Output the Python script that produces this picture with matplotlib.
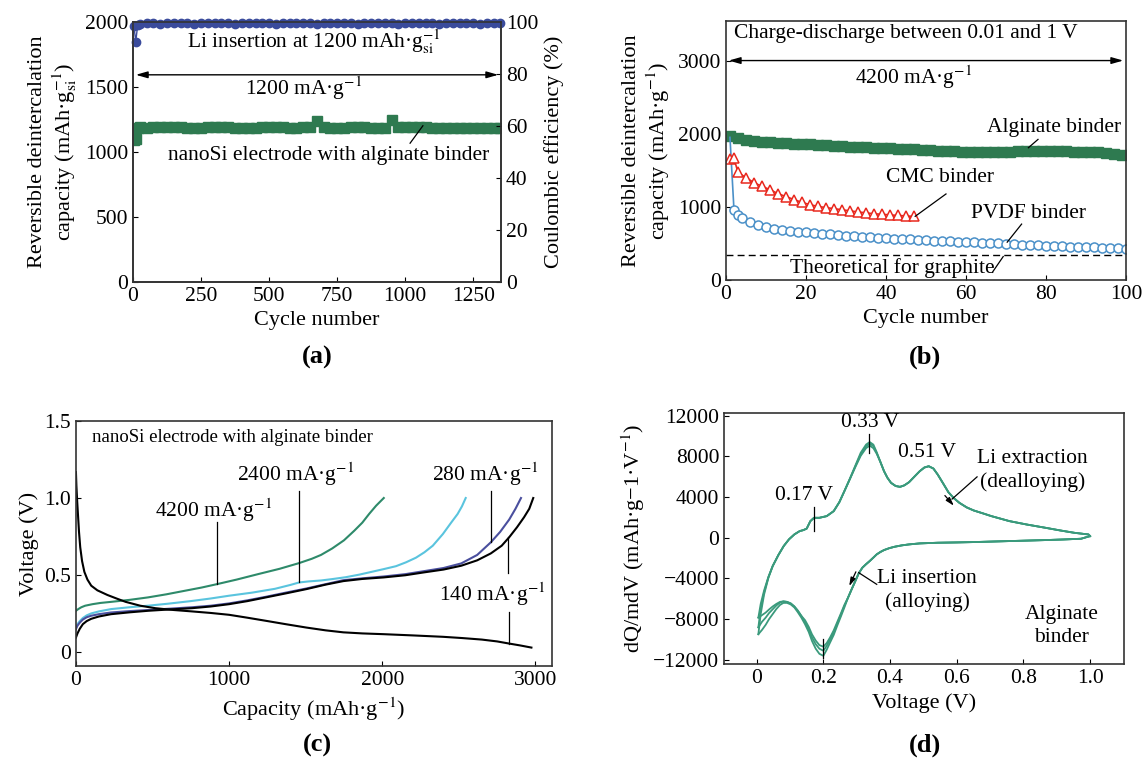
import numpy as np
import matplotlib
matplotlib.use('Agg')
import matplotlib.pyplot as plt

plt.rcParams['font.family'] = 'serif'
plt.rcParams['font.serif'] = ['Liberation Serif', 'DejaVu Serif']
plt.rcParams['mathtext.fontset'] = 'stix'
plt.rcParams['axes.linewidth'] = 1.2
plt.rcParams['axes.edgecolor'] = '#333333'
plt.rcParams['xtick.direction'] = 'in'
plt.rcParams['ytick.direction'] = 'in'
plt.rcParams['xtick.labelsize'] = 15.5
plt.rcParams['ytick.labelsize'] = 15.5

# ---------------- (a) long cycling, alginate binder ----------------
a_cycles_start = [3, 10, 17]
a_cap_start = [1090, 1100, 1185]
a_ce_start = [98.6, 92.4, 98.8]
a_cycles = list(range(25, 1351, 25))
a_cap = [1190, 1185, 1190, 1195, 1195, 1195, 1192, 1185, 1182, 1183,
         1190, 1192, 1192, 1188, 1185, 1180, 1182, 1185, 1190, 1192,
         1193, 1190, 1185, 1180, 1188, 1195, 1240, 1190, 1185, 1182,
         1182, 1190, 1192, 1190, 1185, 1182, 1185, 1248, 1190, 1192,
         1195, 1195, 1192, 1185, 1182, 1182, 1182, 1183, 1183, 1183,
         1182, 1182, 1183, 1183]
a_ce = [99.3, 99.4, 99.4, 99.3, 99.4, 99.5, 99.4, 99.4, 99.3, 99.4,
        99.4, 99.5, 99.4, 99.4, 99.3, 99.4, 99.4, 99.5, 99.4, 99.4,
        99.3, 99.4, 99.4, 99.5, 99.4, 99.4, 99.3, 99.4, 99.4, 99.5,
        99.4, 99.4, 99.3, 99.4, 99.4, 99.5, 99.4, 99.4, 99.3, 99.4,
        99.4, 99.5, 99.4, 99.4, 99.3, 99.4, 99.4, 99.5, 99.4, 99.4,
        99.3, 99.4, 99.4, 99.4]

# ---------------- (b) binder comparison at 4200 mA/g ----------------
b_alg_cycles = list(range(1, 100, 2))
b_alg = [1965, 1935, 1915, 1900, 1890, 1880, 1875, 1870, 1865, 1862,
         1858, 1852, 1845, 1838, 1830, 1824, 1818, 1813, 1808, 1804,
         1800, 1795, 1790, 1784, 1778, 1773, 1768, 1763, 1758, 1754,
         1750, 1749, 1748, 1750, 1752, 1755, 1758, 1761, 1763, 1763,
         1762, 1760, 1758, 1755, 1752, 1748, 1745, 1735, 1725, 1710]
b_cmc_cycles = [1, 2, 3, 5, 7, 9, 11, 13, 15, 17, 19, 21, 23, 25, 27, 29,
                31, 33, 35, 37, 39, 41, 43, 45, 47]
b_cmc = [1660, 1665, 1470, 1400, 1330, 1280, 1235, 1180, 1140, 1100,
         1060, 1030, 1005, 990, 975, 960, 945, 930, 918, 905, 898, 890,
         882, 876, 868]
b_pvdf_cycles = [1, 2, 3, 4] + list(range(6, 101, 2))
b_pvdf = [1950, 960, 895, 845, 790, 750, 720, 700, 688, 675, 662, 652,
          642, 632, 624, 615, 605, 598, 592, 585, 578, 572, 566, 560, 554,
          547, 540, 536, 531, 527, 522, 517, 513, 508, 504, 499, 494, 489,
          484, 478, 473, 467, 463, 459, 456, 452, 448, 444, 440, 436, 432,
          428]
b_graphite = 340

# ---------------- (c) voltage profiles ----------------
c4200_cap = [0, 15, 35, 60, 108, 160, 229, 350, 470, 590, 710, 820, 920,
             1050, 1192, 1330, 1457, 1540, 1600, 1673, 1750, 1818, 1870,
             1914, 1960, 2010]
c4200_v = [0.267, 0.278, 0.29, 0.3, 0.31, 0.318, 0.325, 0.338, 0.354, 0.374,
           0.397, 0.418, 0.44, 0.47, 0.506, 0.54, 0.577, 0.605, 0.63, 0.672,
           0.725, 0.788, 0.84, 0.896, 0.95, 1.0]
c2400_cap = [0, 10, 25, 45, 70, 100, 150, 229, 350, 470, 600, 750, 880, 1000,
             1150, 1300, 1400, 1457, 1520, 1600, 1673, 1760, 1850, 1930, 2010,
             2090, 2155, 2220, 2275, 2330, 2396, 2450, 2492, 2520, 2545]
c2400_v = [0.158, 0.18, 0.2, 0.22, 0.237, 0.25, 0.263, 0.278, 0.29, 0.30,
           0.313, 0.33, 0.347, 0.365, 0.385, 0.41, 0.435, 0.451, 0.458, 0.464,
           0.473, 0.485, 0.502, 0.52, 0.538, 0.557, 0.582, 0.612, 0.647, 0.69,
           0.766, 0.84, 0.896, 0.945, 1.0]
c280_cap = [0, 10, 25, 45, 70, 100, 150, 229, 350, 470, 600, 758, 880, 1000,
            1120, 1240, 1370, 1505, 1630, 1746, 1870, 2010, 2150, 2275, 2400,
            2516, 2620, 2709, 2770, 2829, 2870, 2906]
c280_v = [0.148, 0.17, 0.19, 0.21, 0.225, 0.235, 0.245, 0.256, 0.265, 0.272,
          0.28, 0.29, 0.3, 0.315, 0.335, 0.358, 0.385, 0.412, 0.44, 0.466,
          0.478, 0.49, 0.505, 0.525, 0.545, 0.575, 0.63, 0.712, 0.78, 0.86,
          0.93, 1.0]
c140_cap = [0, 10, 25, 45, 70, 100, 150, 229, 350, 470, 600, 758, 880, 1000,
            1120, 1240, 1370, 1505, 1630, 1746, 1870, 2010, 2150, 2275, 2400,
            2516, 2620, 2709, 2780, 2829, 2880, 2926, 2960, 2986]
c140_v = [0.093, 0.12, 0.15, 0.18, 0.2, 0.215, 0.23, 0.245, 0.257, 0.267,
          0.275, 0.284, 0.295, 0.31, 0.33, 0.354, 0.38, 0.408, 0.437, 0.46,
          0.474, 0.484, 0.498, 0.517, 0.535, 0.56, 0.595, 0.64, 0.69, 0.745,
          0.81, 0.875, 0.93, 1.0]
c_dis_cap = [0, 3, 8, 14, 20, 28, 40, 55, 75, 100, 140, 205, 270, 325, 420,
             518, 640, 758, 880, 1000, 1120, 1240, 1370, 1505, 1630, 1746,
             1870, 2010, 2200, 2396, 2520, 2650, 2750, 2829, 2900, 2974]
c_dis_v = [1.168, 1.08, 0.98, 0.88, 0.78, 0.68, 0.59, 0.52, 0.47, 0.43, 0.40,
           0.37, 0.345, 0.325, 0.30, 0.284, 0.272, 0.263, 0.253, 0.241, 0.222,
           0.202, 0.18, 0.158, 0.14, 0.127, 0.12, 0.115, 0.107, 0.098, 0.09,
           0.08, 0.068, 0.054, 0.042, 0.028]

# ---------------- (d) differential capacity ----------------
d_v_down = [1.0, 0.973, 0.92, 0.866, 0.81, 0.758, 0.7, 0.651, 0.6, 0.543,
            0.489, 0.457, 0.435, 0.414, 0.398, 0.382, 0.371, 0.36, 0.35,
            0.339, 0.328, 0.317, 0.306, 0.296, 0.285, 0.274, 0.263, 0.253,
            0.242, 0.231, 0.22, 0.21, 0.2, 0.188, 0.177, 0.166, 0.156, 0.145,
            0.134, 0.123, 0.113, 0.102, 0.091, 0.08, 0.07, 0.059, 0.048,
            0.037, 0.027, 0.016, 0.005]
d_i_down_1 = [163, -98, -170, -229, -280, -327, -380, -425, -460, -490,
              -556, -654, -750, -882, -1020, -1209, -1400, -1634, -1950,
              -2288, -2600, -2941, -3500, -4248, -5050, -5882, -6600, -7400,
              -8250, -9100, -9800, -10350, -10700, -10550, -10100, -9500,
              -8750, -8100, -7680, -7150, -6750, -6450, -6300, -6250, -6300,
              -6500, -6750, -7050, -7350, -7600, -7843]
d_i_down_2 = [163, -98, -170, -229, -280, -327, -380, -425, -460, -490,
              -556, -654, -750, -882, -1020, -1209, -1400, -1634, -1950,
              -2288, -2600, -2941, -3500, -4248, -5050, -5882, -6700, -7516,
              -8400, -9314, -10000, -10621, -11100, -10900, -10457, -9800,
              -8987, -8300, -7680, -7150, -6750, -6450, -6300, -6250, -6372,
              -6650, -7026, -7400, -7843, -8250, -8800]
d_i_down_3 = [163, -98, -170, -229, -280, -327, -380, -425, -460, -490,
              -556, -654, -750, -882, -1020, -1209, -1400, -1634, -1950,
              -2288, -2600, -2941, -3500, -4248, -5050, -5882, -6850, -7700,
              -8600, -9550, -10300, -11000, -11600, -11400, -10900, -10150,
              -9250, -8500, -7850, -7300, -6850, -6550, -6400, -6400, -6600,
              -7000, -7500, -8000, -8550, -9050, -9477]
d_v_up = [0.005, 0.012, 0.022, 0.035, 0.048, 0.065, 0.081, 0.097, 0.113,
          0.129, 0.14, 0.15, 0.161, 0.172, 0.188, 0.21, 0.231, 0.248, 0.263,
          0.28, 0.296, 0.312, 0.328, 0.339, 0.35, 0.36, 0.371, 0.382, 0.392,
          0.403, 0.417, 0.43, 0.443, 0.457, 0.473, 0.489, 0.503, 0.516, 0.53,
          0.543, 0.559, 0.575, 0.591, 0.608, 0.63, 0.651, 0.68, 0.704, 0.758,
          0.81, 0.866, 0.91, 0.952, 0.98, 0.995, 1.0]
d_i_up_1 = [-7843, -6500, -5200, -3850, -2780, -1700, -817, -150, 327, 654,
            750, 900, 1634, 1960, 1960, 2124, 2614, 3500, 4575, 5800, 6950,
            8050, 8800, 9050, 8800, 8250, 7450, 6536, 5900, 5392, 5080, 5000,
            5150, 5457, 6000, 6536, 6900, 7026, 6800, 6209, 5350, 4477, 3900,
            3431, 2980, 2680, 2380, 2124, 1634, 1300, 980, 720, 490, 380,
            327, 163]
d_i_up_2 = [-8800, -7000, -5390, -3900, -2780, -1700, -817, -150, 327, 654,
            750, 900, 1634, 1960, 1960, 2124, 2614, 3500, 4575, 5800, 7026,
            8200, 8987, 9248, 9000, 8333, 7450, 6536, 5900, 5392, 5080, 5000,
            5150, 5457, 6000, 6536, 6900, 7026, 6800, 6209, 5350, 4477, 3900,
            3431, 2980, 2680, 2380, 2124, 1634, 1300, 980, 720, 490, 380,
            327, 163]
d_i_up_3 = [-9477, -7500, -5600, -3950, -2780, -1700, -817, -150, 327, 654,
            750, 900, 1634, 1960, 1960, 2124, 2614, 3500, 4575, 5850, 7100,
            8350, 9150, 9400, 9150, 8400, 7450, 6536, 5900, 5392, 5080, 5000,
            5150, 5457, 6000, 6536, 6900, 7026, 6800, 6209, 5350, 4477, 3900,
            3431, 2980, 2680, 2380, 2124, 1634, 1300, 980, 720, 490, 380,
            327, 163]

green = '#2e7a50'
blue_dark = '#3a4b9c'
fs = 15.5

fig = plt.figure(figsize=(11.42, 7.66), dpi=100)

# ===== (a)
ax = fig.add_axes([0.1165, 0.632, 0.3222, 0.3394])
ax.plot(a_cycles_start + a_cycles, a_cap_start + a_cap, color=green, lw=1,
        marker='s', ms=6.5, mec=green, mfc=green)
ax.set_xlim(0, 1352)
ax.set_ylim(0, 2000)
ax.set_xticks([0, 250, 500, 750, 1000, 1250])
ax.set_yticks([0, 500, 1000, 1500, 2000])
ax.set_xlabel('Cycle number', fontsize=fs + 0.5)
ax.set_ylabel('Reversible deintercalation\ncapacity (mAh·g$_{\\mathrm{si}}^{-1}$)', fontsize=fs + 0.5)
ax2 = ax.twinx()
ax2.plot(a_cycles_start + a_cycles, a_ce_start + a_ce, color=blue_dark, lw=1,
         marker='o', ms=6, clip_on=False)
ax2.set_ylim(0, 100)
ax2.set_yticks([0, 20, 40, 60, 80, 100])
ax2.tick_params(direction='in')
ax2.set_ylabel('Coulombic efficiency (%)', fontsize=fs + 0.5)
ax.text(666, 1845, 'Li insertion at 1200 mAh·g$_{\\mathrm{si}}^{-1}$', ha='center', va='center', fontsize=fs)
ax.annotate('', xy=(0, 1593), xytext=(1352, 1593),
            arrowprops=dict(arrowstyle='<|-|>,head_length=0.7,head_width=0.2', color='black', lw=1))
ax.text(627, 1490, '1200 mA·g$^{-1}$', ha='center', va='center', fontsize=fs)
ax.plot([1065, 1018], [1201, 1067], color='black', lw=0.9)
ax.text(719, 969, 'nanoSi electrode with alginate binder', ha='center', va='center', fontsize=fs)

# ===== (b)
bx = fig.add_axes([0.6357, 0.6345, 0.3503, 0.338])
bx.plot(b_alg_cycles, b_alg, color=green, lw=1, marker='s', ms=6.5, mec=green, mfc=green)
bx.plot(b_pvdf_cycles, b_pvdf, color='#4a90c8', lw=1.2)
bx.plot(b_pvdf_cycles[1:], b_pvdf[1:], ls='none', marker='o', ms=6.5,
        mfc='white', mec='#4a90c8', mew=1.1)
bx.plot(b_cmc_cycles, b_cmc, color='#e8281e', lw=1.2, marker='^', ms=7,
        mfc='white', mec='#e8281e', mew=1.1)
bx.axhline(b_graphite, color='black', lw=1, ls=(0, (5, 3)))
bx.set_xlim(0, 100)
bx.set_ylim(0, 3540)
bx.set_xticks([0, 20, 40, 60, 80, 100])
bx.set_yticks([0, 1000, 2000, 3000])
bx.set_xlabel('Cycle number', fontsize=fs + 0.5)
bx.set_ylabel('Reversible deintercalation\ncapacity (mAh·g$^{-1}$)', fontsize=fs + 0.5)
bx.text(2, 3364, 'Charge-discharge between 0.01 and 1 V', ha='left', va='center', fontsize=fs)
bx.annotate('', xy=(0, 3000), xytext=(100, 3000),
            arrowprops=dict(arrowstyle='<|-|>,head_length=0.7,head_width=0.2', color='black', lw=1))
bx.text(47, 2769, '4200 mA·g$^{-1}$', ha='center', va='center', fontsize=fs)
bx.text(82, 2082, 'Alginate binder', ha='center', va='center', fontsize=fs)
bx.plot([75.6, 78], [1808, 1922], color='black', lw=0.9)
bx.text(53.4, 1405, 'CMC binder', ha='center', va='center', fontsize=fs)
bx.plot([47.3, 55], [870, 1176], color='black', lw=0.9)
bx.text(75.6, 915, 'PVDF binder', ha='center', va='center', fontsize=fs)
bx.plot([70.3, 73.9], [517, 764], color='black', lw=0.9)
bx.text(41.5, 165, 'Theoretical for graphite', ha='center', va='center', fontsize=fs)
bx.plot([66.6, 69.3], [105, 320], color='black', lw=0.9)

# ===== (c)
cx = fig.add_axes([0.0665, 0.1305, 0.4168, 0.3198])
cx.plot(c4200_cap, c4200_v, color='#2e8a6a', lw=1.5)
cx.plot(c2400_cap, c2400_v, color='#5ac4de', lw=1.5)
cx.plot(c280_cap, c280_v, color='#4a4f9e', lw=1.5)
cx.plot(c140_cap, c140_v, color='black', lw=1.5)
cx.plot(c_dis_cap, c_dis_v, color='black', lw=1.5)
cx.set_xlim(0, 3108)
cx.set_ylim(-0.092, 1.5)
cx.set_xticks([0, 1000, 2000, 3000])
cx.set_yticks([0, 0.5, 1.0, 1.5])
cx.set_yticklabels(['0', '0.5', '1.0', '1.5'])
cx.set_xlabel('Capacity (mAh·g$^{-1}$)', fontsize=fs + 0.5)
cx.set_ylabel('Voltage (V)', fontsize=fs + 0.5)
cx.text(108, 1.396, 'nanoSi electrode with alginate binder', ha='left', va='center', fontsize=13.5)
cx.text(900, 0.918, '4200 mA·g$^{-1}$', ha='center', va='center', fontsize=fs)
cx.plot([920, 920], [0.842, 0.44], color='black', lw=0.9)
cx.text(1433, 1.157, '2400 mA·g$^{-1}$', ha='center', va='center', fontsize=fs)
cx.plot([1457, 1457], [1.048, 0.451], color='black', lw=0.9)
cx.text(2673, 1.157, '280 mA·g$^{-1}$', ha='center', va='center', fontsize=fs)
cx.plot([2709, 2709], [1.048, 0.712], color='black', lw=0.9)
cx.text(2721, 0.375, '140 mA·g$^{-1}$', ha='center', va='center', fontsize=fs)
cx.plot([2823, 2823], [0.745, 0.51], color='black', lw=0.9)
cx.plot([2829, 2829], [0.256, 0.054], color='black', lw=0.9)

# ===== (d)
dx = fig.add_axes([0.634, 0.1332, 0.3503, 0.3277])
dgreen = '#3a9a7c'
for i_down, i_up in [(d_i_down_1, d_i_up_1), (d_i_down_2, d_i_up_2), (d_i_down_3, d_i_up_3)]:
    dx.plot(d_v_down, i_down, color=dgreen, lw=1.3)
    dx.plot(d_v_up, i_up, color=dgreen, lw=1.3)
dx.set_xlim(-0.098, 1.102)
dx.set_ylim(-12400, 12260)
dx.set_xticks([0, 0.2, 0.4, 0.6, 0.8, 1.0])
dx.set_xticklabels(['0', '0.2', '0.4', '0.6', '0.8', '1.0'])
dx.set_yticks([-12000, -8000, -4000, 0, 4000, 8000, 12000])
dx.set_xlabel('Voltage (V)', fontsize=fs + 0.5)
dx.set_ylabel('dQ/mdV (mAh·g−1·V$^{-1}$)', fontsize=fs + 0.5)
dx.text(0.339, 11300, '0.33 V', ha='center', va='center', fontsize=fs)
dx.plot([0.337, 0.337], [8300, 10200], color='black', lw=0.9)
dx.text(0.511, 8333, '0.51 V', ha='center', va='center', fontsize=fs)
dx.text(0.143, 4150, '0.17 V', ha='center', va='center', fontsize=fs)
dx.plot([0.172, 0.172], [650, 3050], color='black', lw=0.9)
dx.plot([0.2, 0.2], [-9900, -11800], color='black', lw=0.9)
dx.text(0.828, 6600, 'Li extraction\n(dealloying)', ha='center', va='center', fontsize=fs, linespacing=1.3)
dx.plot([0.661, 0.586], [5980, 3800], color='black', lw=0.9)
dx.annotate('', xy=(0.597, 2940), xytext=(0.559, 4350),
            arrowprops=dict(arrowstyle='-|>,head_length=0.5,head_width=0.15', color='black', lw=0.9))
dx.text(0.511, -5150, 'Li insertion\n(alloying)', ha='center', va='center', fontsize=fs, linespacing=1.3)
dx.plot([0.36, 0.306], [-4575, -3431], color='black', lw=0.9)
dx.annotate('', xy=(0.274, -5000), xytext=(0.301, -3100),
            arrowprops=dict(arrowstyle='-|>,head_length=0.5,head_width=0.15', color='black', lw=0.9))
dx.text(0.914, -8700, 'Alginate\nbinder', ha='center', va='center', fontsize=fs, linespacing=1.3)

for lab, x, y in [('(a)', 0.278, 0.534), ('(b)', 0.81, 0.534), ('(c)', 0.278, 0.027), ('(d)', 0.81, 0.027)]:
    fig.text(x, y, lab, ha='center', va='center', fontsize=19, fontweight='bold')

fig.savefig('out.png', dpi=100)
